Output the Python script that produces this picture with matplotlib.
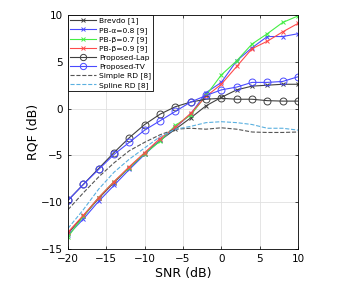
import matplotlib.pyplot as plt
import numpy as np

# SNR values (dB)
snr = np.arange(-20, 11, 2)

# RQF values
brevdo = [-13.3, -11.5, -9.6, -7.9, -6.3, -4.8, -3.4, -2.2, -1.0, 0.3, 1.2, 2.0, 2.4, 2.5, 2.6, 2.6]
pb_a08 = [-13.5, -11.8, -9.9, -8.2, -6.5, -4.9, -3.4, -2.0, -0.6, 1.7, 2.8, 5.1, 6.5, 7.7, 7.7, 8.0]
pb_b07 = [-13.7, -11.5, -9.5, -7.8, -6.3, -4.8, -3.5, -1.8, -0.7, 1.4, 3.6, 5.1, 6.9, 8.0, 9.2, 9.9]
pb_b09 = [-13.2, -11.4, -9.5, -7.8, -6.2, -4.7, -3.2, -2.0, -0.5, 1.3, 2.6, 4.5, 6.4, 7.2, 8.2, 9.1]
prop_lap = [-9.8, -8.1, -6.4, -4.7, -3.1, -1.7, -0.6, 0.2, 0.7, 1.0, 1.1, 1.0, 1.0, 0.85, 0.8, 0.8]
prop_tv = [-9.8, -8.1, -6.5, -4.9, -3.6, -2.3, -1.3, -0.3, 0.7, 1.4, 2.0, 2.3, 2.8, 2.8, 2.9, 3.4]
simple_rd = [-10.8, -9.0, -7.3, -5.8, -4.5, -3.6, -2.8, -2.2, -2.1, -2.2, -2.05, -2.2, -2.5, -2.55, -2.55, -2.5]
spline_rd = [-12.8, -10.8, -8.6, -6.8, -5.4, -4.2, -3.0, -2.2, -1.9, -1.5, -1.4, -1.5, -1.7, -2.1, -2.1, -2.3]

fig = plt.figure(figsize=(3.42, 2.82), dpi=100)
ax = fig.add_axes([68/342, 1 - 249/282, 230/342, 234/282])

lw = 0.8
ax.plot(snr, brevdo, color='#404040', marker='x', ms=3.5, lw=lw, mew=0.7, label='Brevdo [1]')
ax.plot(snr, pb_a08, color='#4a4aff', marker='x', ms=3.5, lw=lw, mew=0.7, label='PB-\u03b1=0.8 [9]')
ax.plot(snr, pb_b07, color='#44ee44', marker='x', ms=3.5, lw=lw, mew=0.7, label='PB-\u03b2=0.7 [9]')
ax.plot(snr, pb_b09, color='#ff4a4a', marker='x', ms=3.5, lw=lw, mew=0.7, label='PB-\u03b2=0.9 [9]')
ax.plot(snr, prop_lap, color='#404040', marker='o', ms=5, mfc='none', lw=lw, mew=0.7, label='Proposed-Lap')
ax.plot(snr, prop_tv, color='#4a4aff', marker='o', ms=5, mfc='none', lw=lw, mew=0.7, label='Proposed-TV')
ax.plot(snr, simple_rd, color='#555555', ls='--', lw=lw, label='Simple RD [8]')
ax.plot(snr, spline_rd, color='#5ab0e0', ls='--', lw=lw, label='Spline RD [8]')

ax.set_xlim(-20, 10)
ax.set_ylim(-15, 10)
ax.set_xticks([-20, -15, -10, -5, 0, 5, 10])
ax.set_yticks([-15, -10, -5, 0, 5, 10])
ax.tick_params(direction='in', labelsize=7.5, length=2.5, width=0.5, top=True, right=True)
ax.grid(True, color='#e0e0e0', lw=0.6)
for s in ax.spines.values():
    s.set_linewidth(0.6)
ax.set_xlabel('SNR (dB)', fontsize=9, labelpad=2)
ax.set_ylabel('RQF (dB)', fontsize=9, labelpad=1)

leg = ax.legend(loc='upper left', fontsize=5.4, fancybox=False, framealpha=1,
                edgecolor='black', borderpad=0.3, labelspacing=0.32, handlelength=3.4,
                handletextpad=0.4, borderaxespad=0, markerscale=0.9)
leg.get_frame().set_linewidth(0.6)

plt.savefig('out.png', dpi=100)
